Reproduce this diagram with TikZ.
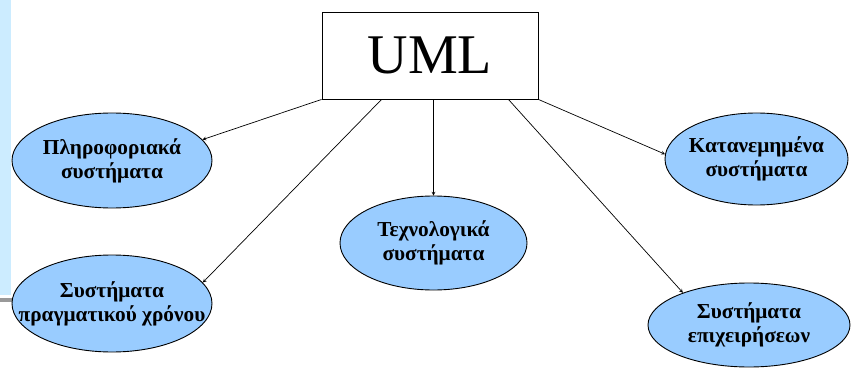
\documentclass[tikz,border=0pt]{standalone}
\usepackage{fontspec}
\setmainfont{Liberation Serif}
\usetikzlibrary{shapes,arrows,positioning}
\definecolor{sysblue}{RGB}{153,204,255}
\definecolor{stripblue}{RGB}{204,236,255}
\tikzstyle{root} = [rectangle, draw=black, line width=0.9pt, minimum width=216pt, minimum height=87pt, font=\fontsize{56}{60}\selectfont]
\tikzstyle{sys} = [ellipse, draw=black, line width=0.9pt, fill=sysblue, inner sep=0pt, on grid]
\tikzstyle{systext} = [font=\bfseries\fontsize{21.3}{24}\selectfont, align=center, inner sep=0pt]
\tikzstyle{arrow} = [line width=0.7pt,->,>=stealth]

\begin{document}
\begin{tikzpicture}
	\useasboundingbox (0,0) rectangle (855pt,-369pt);
	% left margin of the slide
	\fill[stripblue] (0,0) rectangle (11pt,-295pt);
	\fill[gray!80] (0,-298pt) rectangle (12pt,-302pt);

	\node[root] (uml) at (430pt,-55.5pt) {UML};
	\node[sys, minimum width=200pt, minimum height=95pt, below left=105pt and 318pt of uml,
		label={[systext]center:Πληροφοριακά\\συστήματα}] (info) {};
	\node[sys, minimum width=200pt, minimum height=97pt, below=143pt of info,
		label={[systext]center:Συστήματα\\πραγματικού χρόνου}] (realtime) {};
	\node[sys, minimum width=187pt, minimum height=94pt, below right=187.5pt and 3.5pt of uml,
		label={[systext]center:Τεχνολογικά\\συστήματα}] (tech) {};
	\node[sys, minimum width=183pt, minimum height=92pt, below right=103.5pt and 326.5pt of uml,
		label={[systext]center:Κατανεμημένα\\συστήματα}] (distrib) {};
	\node[sys, minimum width=202pt, minimum height=84pt, below right=269.5pt and 319pt of uml,
		label={[systext]center:Συστήματα\\επιχειρήσεων}] (business) {};

	\draw[arrow] (uml.south west) -- (info.13);
	\draw[arrow] ([xshift=60pt]uml.south west) -- (realtime.13);
	\draw[arrow] (tech.north |- uml.south) -- (tech.north);
	\draw[arrow] ([xshift=-30pt]uml.south east) -- (business.154);
	\draw[arrow] (uml.south east) -- (distrib.177);
\end{tikzpicture}
\end{document}
